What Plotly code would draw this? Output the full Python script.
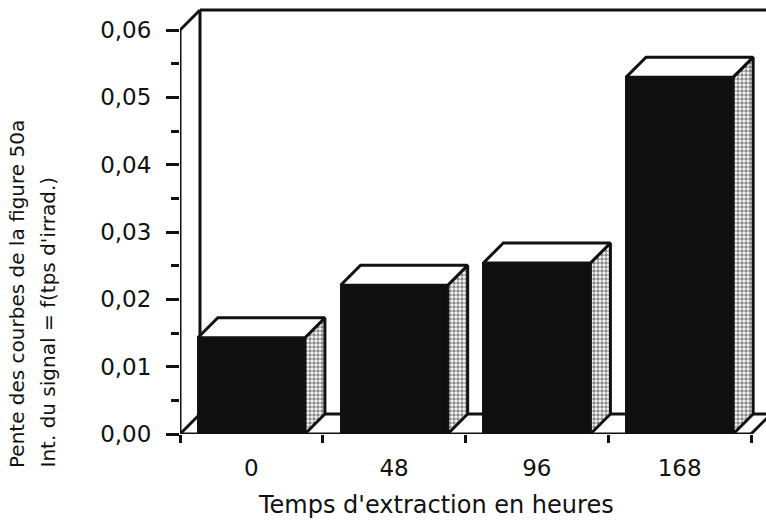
import plotly.graph_objects as go

# Data: slope of the signal-intensity curves vs. extraction time
hours = ["0", "48", "96", "168"]
slopes = [0.0143, 0.0221, 0.0254, 0.0530]

y_tick_vals = [0.00, 0.01, 0.02, 0.03, 0.04, 0.05, 0.06]
y_tick_text = ["0,00", "0,01", "0,02", "0,03", "0,04", "0,05", "0,06"]

x_title = "Temps d'extraction en heures"
y_title_lines = ["Pente des courbes de la figure 50a", "Int. du signal = f(tps d'irrad.)"]

# Page / plot-area geometry (pixels)
W, H = 766, 527
ML, MR, MT, MB = 180, 0, 5, 93
PLOT_W = W - ML - MR
PLOT_H = H - MT - MB

FONT = "DejaVu Sans"
INK = "#111111"
LW = 3

# Axis scales
X0, X1 = -0.5, len(hours) - 0.5
PX_PER_X = 142.75
Y_TOP = y_tick_vals[-1]
PX_PER_Y = 404 / Y_TOP
x_range = [X0, X0 + PLOT_W / PX_PER_X]
y_range = [0, PLOT_H / PX_PER_Y]

# 3-D depth offset of the box (20 px up and to the right)
DEPTH_PX = 20
dx = DEPTH_PX / PX_PER_X
dy = DEPTH_PX / PX_PER_Y
BAR_W = 0.75

idx = list(range(len(hours)))

fig = go.Figure()

# Front faces of the bars
fig.add_trace(go.Bar(
    x=idx, y=slopes, width=BAR_W,
    marker=dict(color="#0f0f0f", line=dict(color=INK, width=2)),
    hoverinfo="skip", showlegend=False,
))

# Side (dotted) and top (white) faces derived from each bar value
for i, v in zip(idx, slopes):
    left, right = i - BAR_W / 2, i + BAR_W / 2
    fig.add_trace(go.Scatter(
        x=[right, right + dx, right + dx, right, right],
        y=[0, dy, v + dy, v, 0],
        mode="lines", fill="toself",
        fillcolor="white",
        fillpattern=dict(shape=".", fgcolor="#111111", bgcolor="white",
                         size=4, solidity=0.6),
        line=dict(color=INK, width=LW),
        hoverinfo="skip", showlegend=False,
    ))
    fig.add_trace(go.Scatter(
        x=[left, left + dx, right + dx, right, left],
        y=[v, v + dy, v + dy, v, v],
        mode="lines", fill="toself", fillcolor="white",
        line=dict(color=INK, width=LW),
        hoverinfo="skip", showlegend=False,
    ))

# Box frame: back wall, floor and left wall edges
def seg(xa, ya, xb, yb, layer="below"):
    return dict(type="line", xref="x", yref="y", x0=xa, y0=ya, x1=xb, y1=yb,
                line=dict(color=INK, width=LW), layer=layer)

shapes = [
    seg(X0 + dx, dy, X0 + dx, Y_TOP + dy),
    seg(X0 + dx, Y_TOP + dy, X1 + dx, Y_TOP + dy),
    seg(X1 + dx, dy, X1 + dx, Y_TOP + dy),
    seg(X0 + dx, dy, X1 + dx, dy),
    seg(X0, 0, X0 + dx, dy),
    seg(X1, 0, X1 + dx, dy),
    seg(X0, Y_TOP, X0 + dx, Y_TOP + dy),
    seg(X0, 0, X0, Y_TOP, layer="above"),
    seg(X0, 0, X1, 0, layer="above"),
]


def px_x(px):
    return (px - ML) / PLOT_W


def px_y(py):
    return (H - MB - py) / PLOT_H


annotations = [
    dict(text=x_title, xref="paper", yref="paper", x=px_x(436), y=px_y(489),
         xanchor="center", yanchor="top", showarrow=False,
         font=dict(family=FONT, size=24, color=INK)),
]
for cx, line in zip([17, 47], y_title_lines):
    annotations.append(dict(
        text=line, xref="paper", yref="paper", x=px_x(cx), y=px_y(470),
        xanchor="center", yanchor="bottom", textangle=-90, showarrow=False,
        font=dict(family=FONT, size=20, color=INK)))

fig.update_layout(
    width=W, height=H,
    margin=dict(l=ML, r=MR, t=MT, b=MB, pad=0),
    paper_bgcolor="white", plot_bgcolor="white",
    bargap=0, showlegend=False,
    shapes=shapes, annotations=annotations,
    font=dict(family=FONT, color=INK),
    xaxis=dict(
        range=x_range, showgrid=False, zeroline=False, showline=False,
        tickmode="array", tickvals=idx, ticktext=hours,
        ticks="outside", ticklen=8, tickcolor="rgba(0,0,0,0)",
        ticklabelstandoff=5,
        tickfont=dict(family=FONT, size=23, color=INK),
        minor=dict(tickmode="array", tickvals=[i - 0.5 for i in range(len(hours) + 1)],
                   ticks="outside", ticklen=8, tickwidth=LW, tickcolor=INK),
        fixedrange=True,
    ),
    yaxis=dict(
        range=y_range, showgrid=False, zeroline=False, showline=False,
        tickmode="array", tickvals=y_tick_vals, ticktext=y_tick_text,
        ticks="outside", ticklen=13, tickwidth=LW, tickcolor=INK,
        ticklabelstandoff=10,
        tickfont=dict(family=FONT, size=23, color=INK),
        minor=dict(tickmode="array",
                   tickvals=[v + 0.005 for v in y_tick_vals[:-1]],
                   ticks="outside", ticklen=8, tickwidth=LW, tickcolor=INK),
        fixedrange=True,
    ),
)

fig.write_html("out.html")
